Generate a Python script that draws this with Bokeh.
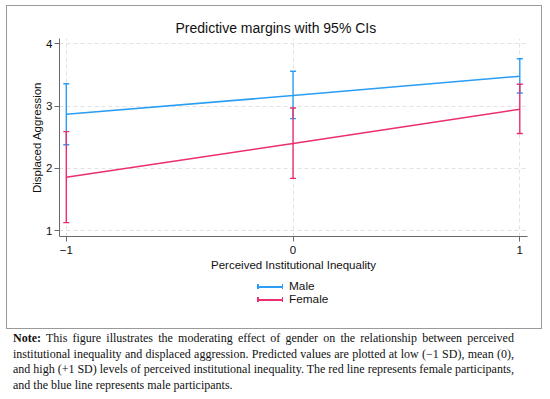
from bokeh.plotting import figure
from bokeh.models import ColumnDataSource, Whisker, TeeHead, FixedTicker, Div
from bokeh.layouts import column
from bokeh.embed import file_html
from bokeh.resources import INLINE

# ---- data ----
levels = [-1, 0, 1]
male_mean = [2.87, 3.17, 3.48]
male_lower = [2.38, 2.80, 3.21]
male_upper = [3.36, 3.56, 3.76]
female_mean = [1.86, 2.40, 2.95]
female_lower = [1.13, 1.84, 2.56]
female_upper = [2.59, 2.97, 3.35]
x_ticks = [-1, 0, 1]
x_tick_labels = ["\u22121", "0", "1"]
y_ticks = [1, 2, 3, 4]
series_names = ["Male", "Female"]
title_text = "Predictive margins with 95% CIs"
x_label = "Perceived Institutional Inequality"
y_label = "Displaced Aggression"
note_lines = [
    "<b>Note:</b> This figure illustrates the moderating effect of gender on the relationship between perceived",
    "institutional inequality and displaced aggression. Predicted values are plotted at low (\u22121 SD), mean (0),",
    "and high (+1 SD) levels of perceived institutional inequality. The red line represents female participants,",
    "and the blue line represents male participants.",
]

BLUE = "#2a9df4"
PINK = "#ea2f6c"
FONT = "Liberation Sans"
BORDER = "1px solid #9a9a9a"

male_src = ColumnDataSource(dict(x=levels, y=male_mean, lo=male_lower, hi=male_upper))
female_src = ColumnDataSource(dict(x=levels, y=female_mean, lo=female_lower, hi=female_upper))

p = figure(width=536, height=267, x_range=(-1.03, 1.034), y_range=(0.908, 4.085),
           output_backend="svg", toolbar_location=None,
           min_border_left=52, min_border_right=16, min_border_top=32, min_border_bottom=36,
           margin=(5, 0, 0, 6),
           styles={"border-top": BORDER, "border-left": BORDER, "border-right": BORDER})
p.outline_line_color = None
p.background_fill_color = "white"
p.border_fill_color = "white"

p.title.text = title_text
p.title.align = "left"
p.title.offset = 116
p.title.text_font = FONT
p.title.text_font_size = "14px"
p.title.text_font_style = "normal"
p.title.text_color = "#111111"
p.title.standoff = 5

for ax in (p.xaxis[0], p.yaxis[0]):
    ax.axis_line_color = "#6a6a6a"
    ax.major_tick_line_color = "#6a6a6a"
    ax.minor_tick_line_color = None
    ax.major_tick_in = 0
    ax.major_tick_out = 5
    ax.major_label_text_font = FONT
    ax.major_label_text_font_size = "11.5px"
    ax.major_label_text_color = "#111111"
    ax.axis_label_text_font = FONT
    ax.axis_label_text_font_size = "11.5px"
    ax.axis_label_text_font_style = "normal"
    ax.axis_label_text_color = "#111111"

p.xaxis.ticker = FixedTicker(ticks=x_ticks)
p.xaxis.major_label_overrides = {t: l for t, l in zip(x_ticks, x_tick_labels)}
p.xaxis.axis_label = x_label
p.xaxis.major_label_standoff = 4
p.xaxis.axis_label_standoff = 2

p.yaxis.ticker = FixedTicker(ticks=y_ticks)
p.yaxis.major_label_orientation = "horizontal"
p.yaxis.axis_label = y_label
p.yaxis.major_label_standoff = 2
p.yaxis.axis_label_standoff = 0

p.grid.grid_line_color = "#e2e2e2"
p.grid.grid_line_dash = "4 3"
p.grid.grid_line_width = 1
p.xgrid.ticker = FixedTicker(ticks=x_ticks)
p.ygrid.ticker = FixedTicker(ticks=y_ticks)

p.line("x", "y", source=male_src, line_color=BLUE, line_width=1.6)
p.line("x", "y", source=female_src, line_color=PINK, line_width=1.6)

for src, col in ((male_src, BLUE), (female_src, PINK)):
    w = Whisker(base="x", lower="lo", upper="hi", source=src, dimension="height",
                line_color=col, line_width=1.4,
                upper_head=TeeHead(size=6, line_color=col, line_width=1.4),
                lower_head=TeeHead(size=6, line_color=col, line_width=1.4))
    p.add_layout(w)

# ---- legend (HTML, below the plot, inside the graph box) ----
def legend_row(name, col):
    glyph = (
        "<span style=\"display:inline-block;position:relative;width:26px;height:13px;vertical-align:top;\">"
        f"<span style=\"position:absolute;left:0;right:0;top:6px;height:1.5px;background:{col};\"></span>"
        f"<span style=\"position:absolute;left:0;top:4px;width:1.5px;height:5px;background:{col};\"></span>"
        f"<span style=\"position:absolute;right:0;top:4px;width:1.5px;height:5px;background:{col};\"></span>"
        "</span>"
    )
    return (f"<div style=\"white-space:nowrap;height:13.3px;line-height:13px;\">{glyph}"
            f"<span style=\"margin-left:6px;vertical-align:top;\">{name}</span></div>")

legend_html = (
    "<div style=\"position:relative;width:536px;height:57px;\">"
    f"<div style=\"position:absolute;left:250px;top:8px;font-family:'{FONT}',sans-serif;"
    "font-size:11.8px;color:#111;\">"
    + legend_row(series_names[0], BLUE) + legend_row(series_names[1], PINK)
    + "</div></div>"
)
legend_div = Div(text=legend_html, width=536, height=57, margin=(0, 0, 0, 6),
                 styles={"border-bottom": BORDER, "border-left": BORDER, "border-right": BORDER})

line_style = ("font-family:'Liberation Serif',serif;font-size:12px;line-height:15.5px;"
              "white-space:nowrap;color:#111;")
html = ""
for i, ln in enumerate(note_lines):
    align = "text-align:justify;text-align-last:justify;" if i < len(note_lines) - 1 else "text-align:left;"
    html += f"<div style=\"{line_style}{align}\">{ln}</div>"
note = Div(text=html, width=520, margin=(2, 0, 0, 13))

layout = column(p, legend_div, note, spacing=0)
open("out.html", "w").write(file_html(layout, INLINE))
